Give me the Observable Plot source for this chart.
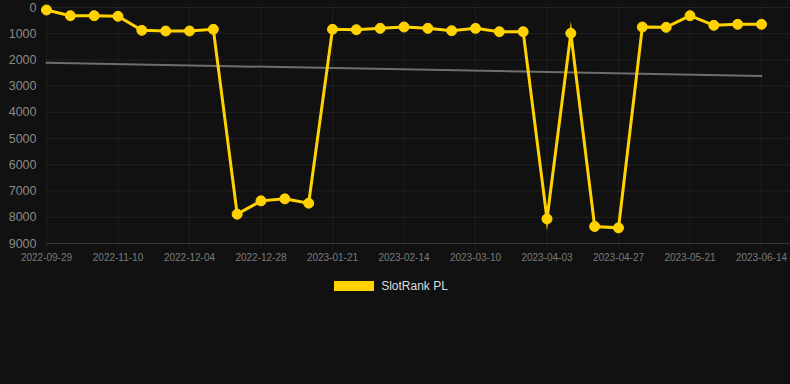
<!DOCTYPE html>
<html>
<head>
<meta charset="utf-8">
<script src="https://cdn.jsdelivr.net/npm/d3@7"></script>
<script src="https://cdn.jsdelivr.net/npm/@observablehq/plot@0.6"></script>
<style>
  html, body { margin: 0; padding: 0; background: #111111; }
  body { width: 790px; height: 384px; overflow: hidden; font-family: "Liberation Sans", Arial, sans-serif; }
  #legend { display: flex; justify-content: center; align-items: center; margin-top: 9px; padding-right: 8px; }
  #legend .sw { width: 40px; height: 10px; background: #FFD200; margin-right: 7px; }
  #legend .lb { color: #dddddd; font-size: 12px; }
</style>
</head>
<body>
<div id="chart"></div>
<div id="legend"><span class="sw"></span><span class="lb">SlotRank PL</span></div>
<script>
const dates = [
  "2022-09-29","2022-10-13","2022-10-27","2022-11-10","2022-11-18","2022-11-26",
  "2022-12-04","2022-12-12","2022-12-20","2022-12-28","2023-01-05","2023-01-13",
  "2023-01-21","2023-01-29","2023-02-06","2023-02-14","2023-02-22","2023-03-02",
  "2023-03-10","2023-03-18","2023-03-26","2023-04-03","2023-04-11","2023-04-19",
  "2023-04-27","2023-05-05","2023-05-13","2023-05-21","2023-05-29","2023-06-06",
  "2023-06-14"
];
const ranks = [
  95, 313, 313, 336, 870, 897, 897, 832,
  7882, 7374, 7297, 7462,
  832, 847, 795, 744, 795, 885, 795, 923, 923,
  8061, 985, 8351, 8404,
  744, 756, 313, 680, 641, 641
];
const tickLabels = [
  "2022-09-29","2022-11-10","2022-12-04","2022-12-28","2023-01-21","2023-02-14",
  "2023-03-10","2023-04-03","2023-04-27","2023-05-21","2023-06-14"
];
const yTicks = [0,1000,2000,3000,4000,5000,6000,7000,8000,9000];
const trendDates = ["2022-09-29","2023-06-14"];
const trendValues = [2107, 2614];

const idx = d => dates.indexOf(d);
const data = dates.map((d, i) => ({i, date: d, rank: ranks[i]}));
const trend = trendDates.map((d, k) => ({i: idx(d), rank: trendValues[k]}));
const xTicks = tickLabels.map(idx);

const yellow = "#FFD200";

const chart = Plot.plot({
  width: 790,
  height: 270,
  marginLeft: 46,
  marginRight: 0,
  marginTop: 7,
  marginBottom: 27,
  style: {background: "#111111", fontFamily: "Liberation Sans, Arial, sans-serif", overflow: "visible"},
  x: {type: "linear", domain: [0, dates.length - 1], insetRight: 29, label: null},
  y: {domain: [0, 9000], reverse: true, label: null},
  marks: [
    Plot.gridY(yTicks, {stroke: "#ffffff", strokeOpacity: 0.07}),
    Plot.ruleY([9000], {stroke: "#ffffff", strokeOpacity: 0.1}),
    Plot.gridX(xTicks, {stroke: "#ffffff", strokeOpacity: 0.05}),
    Plot.axisX(xTicks, {tickSize: 6, tickPadding: 4, stroke: "#ffffff", strokeOpacity: 0.05, fill: "#7a7a7a", fontSize: 10, tickFormat: i => dates[i]}),
    Plot.axisY(yTicks, {tickSize: 0, tickPadding: 10, fill: "#8a8a8a", fontSize: 12.5, tickFormat: d => String(d)}),
    Plot.line(trend, {x: "i", y: "rank", stroke: "#6e6e6e", strokeWidth: 2}),
    Plot.line(data, {x: "i", y: "rank", stroke: yellow, strokeWidth: 3, strokeLinejoin: "miter", strokeMiterlimit: 10}),
    Plot.dot(data, {x: "i", y: "rank", r: 5, fill: yellow, stroke: yellow, strokeWidth: 1})
  ]
});
document.getElementById("chart").appendChild(chart);
</script>
</body>
</html>
